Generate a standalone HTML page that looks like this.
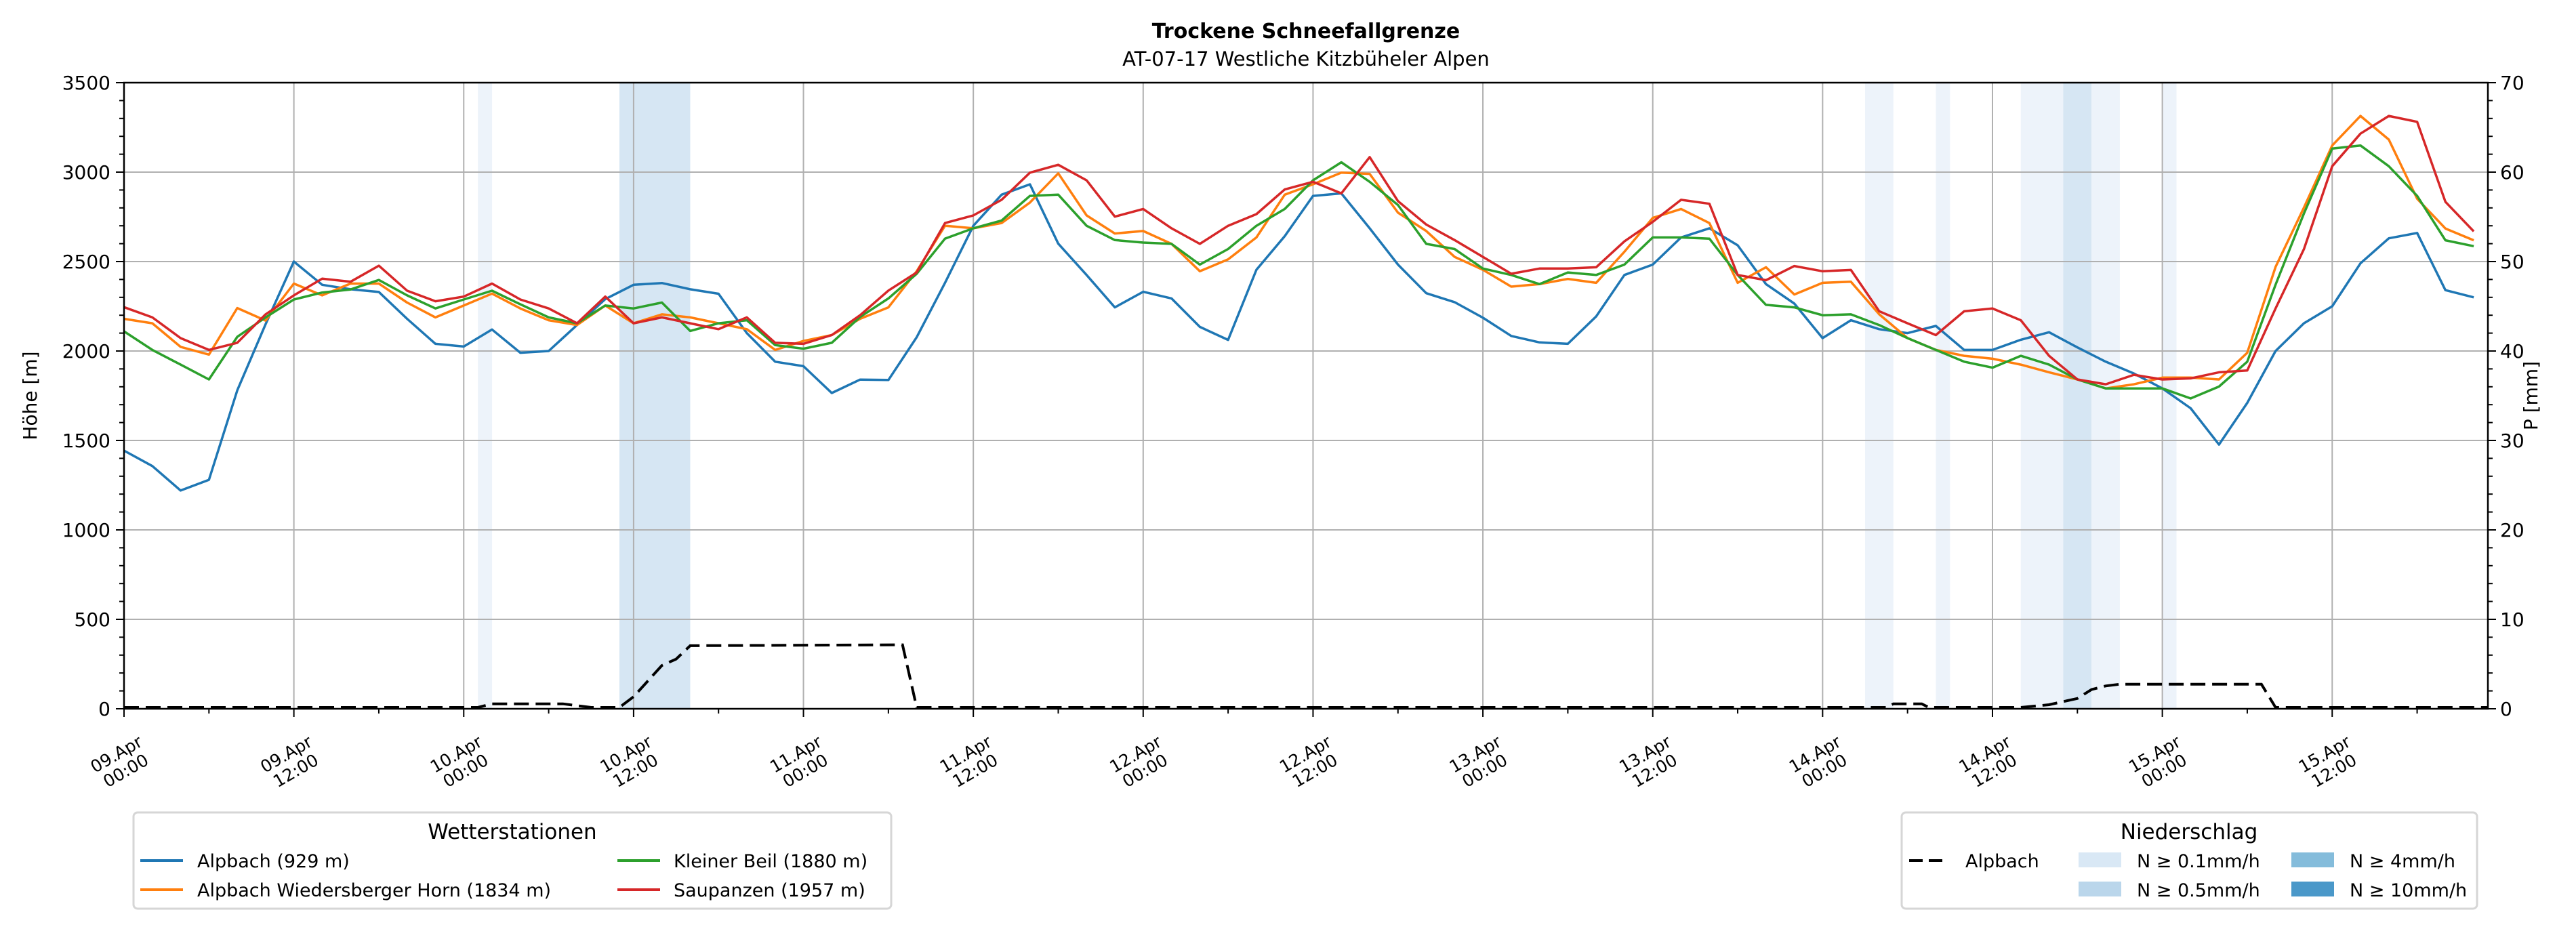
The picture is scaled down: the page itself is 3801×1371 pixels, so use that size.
<!DOCTYPE html>
<html><head><meta charset="utf-8"><title>Trockene Schneefallgrenze</title>
<style>
html,body{margin:0;padding:0;background:#fff;}
svg{display:block;font-family:"DejaVu Sans","Liberation Sans",sans-serif;}
</style></head>
<body>
<svg id="chart" xmlns="http://www.w3.org/2000/svg" width="3801" height="1371" viewBox="0 0 3801 1371">
  <rect width="3801" height="1371" fill="#fff"/>
  <text x="1927" y="56" text-anchor="middle" font-size="30" font-weight="bold">Trockene Schneefallgrenze</text>
  <text x="1927" y="97" text-anchor="middle" font-size="29">AT-07-17 Westliche Kitzbüheler Alpen</text>
  <g id="spans"></g>
  <g id="grid"></g>
  <g id="series"></g>
  <g id="axes"></g>
  <text transform="translate(54,584) rotate(-90)" text-anchor="middle" font-size="28">Höhe [m]</text>
  <text transform="translate(3744,584) rotate(-90)" text-anchor="middle" font-size="28">P [mm]</text>

  <g>
    <rect x="197" y="1199" width="1118" height="142" rx="6" fill="#fff" stroke="#d6d6d6" stroke-width="3"/>
    <text x="756" y="1238" text-anchor="middle" font-size="31">Wetterstationen</text>
    <line x1="207" y1="1270" x2="270" y2="1270" stroke="#1f77b4" stroke-width="4"/>
    <text x="291" y="1280" font-size="27">Alpbach (929 m)</text>
    <line x1="207" y1="1313" x2="270" y2="1313" stroke="#ff7f0e" stroke-width="4"/>
    <text x="291" y="1323" font-size="27">Alpbach Wiedersberger Horn (1834 m)</text>
    <line x1="911" y1="1270" x2="974" y2="1270" stroke="#2ca02c" stroke-width="4"/>
    <text x="994" y="1280" font-size="27">Kleiner Beil (1880 m)</text>
    <line x1="911" y1="1313" x2="974" y2="1313" stroke="#d62728" stroke-width="4"/>
    <text x="994" y="1323" font-size="27">Saupanzen (1957 m)</text>
  </g>
  <g>
    <rect x="2806" y="1199" width="849" height="142" rx="6" fill="#fff" stroke="#d6d6d6" stroke-width="3"/>
    <text x="3230" y="1238" text-anchor="middle" font-size="31">Niederschlag</text>
    <line x1="2817" y1="1270" x2="2875" y2="1270" stroke="#000" stroke-width="4" stroke-dasharray="20,9"/>
    <text x="2900" y="1280" font-size="27">Alpbach</text>
    <rect x="3067" y="1258" width="63" height="22" fill="#d9e8f5"/>
    <text x="3153" y="1280" font-size="27">N ≥ 0.1mm/h</text>
    <rect x="3067" y="1301" width="63" height="22" fill="#bad6eb"/>
    <text x="3153" y="1323" font-size="27">N ≥ 0.5mm/h</text>
    <rect x="3381" y="1258" width="63" height="22" fill="#84bcdb"/>
    <text x="3467" y="1280" font-size="27">N ≥ 4mm/h</text>
    <rect x="3381" y="1301" width="63" height="22" fill="#4a98c9"/>
    <text x="3467" y="1323" font-size="27">N ≥ 10mm/h</text>
  </g>
</svg>
<script>
const hours = [];
for (let h = 0; h <= 166; h += 2) hours.push(h);
const alpbach = [1443,1357,1220,1280,1780,2150,2500,2370,2345,2330,
2180,2040,2025,2120,1990,2000,2145,2290,2370,2380,
2345,2320,2100,1940,1915,1765,1840,1838,2077,2381,
2700,2874,2932,2600,2425,2244,2331,2294,2135,2062,
2454,2642,2867,2881,2686,2483,2323,2273,2186,2084,
2048,2040,2193,2425,2483,2635,2686,2591,2374,2265,
2072,2172,2122,2100,2140,2006,2006,2063,2105,2020,
1940,1874,1791,1680,1477,1710,2000,2155,2250,2490,
2630,2660,2340,2300];
const wiedersberg = [2180,2155,2023,1980,2240,2170,2377,2311,2377,2377,
2271,2188,2254,2321,2238,2172,2145,2254,2155,2205,
2188,2155,2122,2006,2056,2089,2180,2244,2446,2700,
2686,2715,2830,2993,2758,2657,2671,2599,2446,2512,
2635,2874,2932,2997,2990,2773,2671,2526,2454,2360,
2374,2403,2381,2555,2744,2794,2715,2381,2468,2316,
2381,2387,2205,2072,2006,1973,1957,1924,1881,1841,
1791,1814,1851,1851,1841,1990,2470,2801,3149,3314,
3182,2851,2685,2619];
const kleinerBeil = [2110,2006,1924,1841,2079,2188,2288,2327,2344,2397,
2311,2238,2288,2337,2261,2188,2155,2254,2238,2271,
2112,2155,2172,2033,2013,2046,2190,2294,2432,2628,
2686,2729,2867,2874,2700,2620,2606,2599,2483,2570,
2700,2794,2954,3055,2946,2816,2599,2570,2461,2425,
2374,2439,2425,2483,2635,2635,2628,2425,2258,2244,
2200,2205,2145,2072,2006,1940,1907,1973,1924,1841,
1791,1791,1791,1735,1801,1940,2371,2768,3132,3149,
3033,2867,2619,2586];
const saupanzen = [2245,2188,2072,2006,2046,2205,2311,2404,2387,2477,
2337,2278,2304,2377,2288,2238,2155,2304,2155,2188,
2155,2122,2188,2046,2040,2089,2200,2338,2439,2715,
2758,2845,2997,3041,2954,2751,2794,2686,2599,2700,
2765,2903,2946,2881,3084,2838,2707,2620,2526,2432,
2461,2461,2468,2613,2722,2845,2823,2425,2396,2475,
2446,2453,2222,2155,2089,2222,2238,2172,1973,1841,
1814,1867,1841,1847,1881,1891,2238,2569,3033,3215,
3314,3281,2834,2669];
const precipHours = [0,25,26,31,33,35,36,38,39,40,55,56,124.5,125,127,127.5,134,136,138,139,140,141,151,152,167];
const precipValues = [0,0,0.4,0.4,0,0,1.2,4.7,5.4,6.9,7.0,0,0,0.4,0.4,0,0,0.3,1.0,2.0,2.4,2.6,2.6,0,0];
const spanStart = [25,35,123,128,134,137,139,144];
const spanEnd   = [26,40,125,129,137,139,141,145];
const spanLevel = [0,1,0,0,0,1,0,0];
const xTickHours = [0,12,24,36,48,60,72,84,96,108,120,132,144,156];
const xTickDays = ["09.Apr","09.Apr","10.Apr","10.Apr","11.Apr","11.Apr","12.Apr","12.Apr","13.Apr","13.Apr","14.Apr","14.Apr","15.Apr","15.Apr"];
const xTickTimes = ["00:00","12:00","00:00","12:00","00:00","12:00","00:00","12:00","00:00","12:00","00:00","12:00","00:00","12:00"];
const yTicks = [0,500,1000,1500,2000,2500,3000,3500];
const y2Ticks = [0,10,20,30,40,50,60,70];

const NS = "http://www.w3.org/2000/svg";
const L = 183, R = 3671, T = 122, B = 1046, XMAX = 167, YMAX = 3500, PMAX = 70;
const xs = h => L + h * (R - L) / XMAX;
const ys = v => B - v * (B - T) / YMAX;
const yp = p => B - p * (B - T) / PMAX;
function mk(tag, attrs, parent) {
  const e = document.createElementNS(NS, tag);
  for (const k in attrs) e.setAttribute(k, attrs[k]);
  parent.appendChild(e);
  return e;
}
const spansG = document.getElementById('spans');
const spanColors = ['#edf3fa', '#d6e6f3'];
spanStart.forEach((s, i) => {
  const r = mk('rect', {x: xs(s), y: T, width: xs(spanEnd[i]) - xs(s), height: B - T, fill: spanColors[spanLevel[i]]}, spansG);
  
  
});
const gridG = document.getElementById('grid');
yTicks.forEach(v => {
  const g = mk('line', {x1: L, x2: R, y1: ys(v), y2: ys(v), stroke: '#b0b0b0', 'stroke-width': 2}, gridG);
  
  
});
xTickHours.forEach(h => {
  const g = mk('line', {x1: xs(h), x2: xs(h), y1: T, y2: B, stroke: '#b0b0b0', 'stroke-width': 2}, gridG);
  
  
});
const seriesG = document.getElementById('series');
function line(vals, color, name) {
  const d = vals.map((v, i) => (i ? 'L' : 'M') + xs(hours[i]).toFixed(1) + ',' + ys(v).toFixed(1)).join('');
  const p = mk('path', {d: d, fill: 'none', stroke: color, 'stroke-width': 3.5, 'stroke-linejoin': 'round'}, seriesG);
  
  
}
line(alpbach, '#1f77b4', 'line-alpbach');
line(wiedersberg, '#ff7f0e', 'line-wiedersberger-horn');
line(kleinerBeil, '#2ca02c', 'line-kleiner-beil');
line(saupanzen, '#d62728', 'line-saupanzen');
const pd = precipValues.map((v, i) => (i ? 'L' : 'M') + xs(precipHours[i]).toFixed(1) + ',' + (yp(v) - 2).toFixed(1)).join('');
const pl = mk('path', {d: pd, fill: 'none', stroke: '#000', 'stroke-width': 4, 'stroke-dasharray': '22,10'}, seriesG);



const axG = document.getElementById('axes');
mk('rect', {x: L, y: T, width: R - L, height: B - T, fill: 'none', stroke: '#000', 'stroke-width': 2.5}, axG);
for (let v = 0; v <= YMAX; v += 100) {
  const major = v % 500 === 0;
  mk('line', {x1: L - (major ? 12 : 7), x2: L, y1: ys(v), y2: ys(v), stroke: '#000', 'stroke-width': 2}, axG);
}
yTicks.forEach(v => {
  const t = mk('text', {x: L - 20, y: ys(v) + 10, 'text-anchor': 'end', 'font-size': 28}, axG);
  t.textContent = v;
  
  
});
for (let p = 0; p <= PMAX; p += 2) {
  const major = p % 10 === 0;
  mk('line', {x1: R, x2: R + (major ? 12 : 7), y1: yp(p), y2: yp(p), stroke: '#000', 'stroke-width': 2}, axG);
}
y2Ticks.forEach(p => {
  const t = mk('text', {x: R + 18, y: yp(p) + 10, 'font-size': 28}, axG);
  t.textContent = p;
  
  
});
for (let h = 0; h <= XMAX; h += 6) {
  const major = h % 12 === 0;
  mk('line', {x1: xs(h), x2: xs(h), y1: B, y2: B + (major ? 12 : 7), stroke: '#000', 'stroke-width': 2}, axG);
}
xTickHours.forEach((h, i) => {
  const g = mk('g', {transform: 'translate(' + (xs(h) - 5) + ',1124) rotate(-30)'}, axG);
  
  
  const a = mk('text', {x: 0, y: -4, 'text-anchor': 'middle', 'font-size': 25}, g);
  a.textContent = xTickDays[i];
  const b = mk('text', {x: 0, y: 24, 'text-anchor': 'middle', 'font-size': 25}, g);
  b.textContent = xTickTimes[i];
});
</script>
</body></html>
